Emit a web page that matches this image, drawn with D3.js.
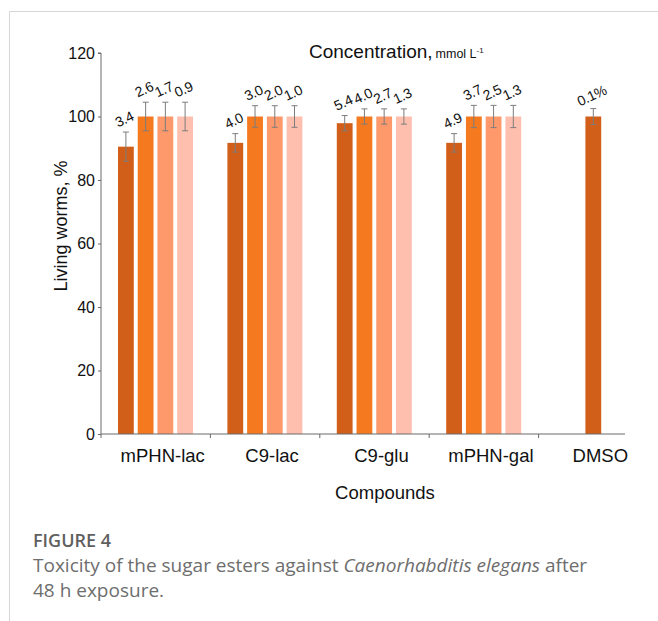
<!DOCTYPE html>
<html>
<head>
<meta charset="utf-8">
<script src="https://cdn.jsdelivr.net/npm/d3@7"></script>
<style>
  body { margin: 0; background: #fff; }
  svg { display: block; }
</style>
</head>
<body>
<svg id="chart" width="658" height="621"></svg>
<script>
// data
const compounds = ['mPHN-lac', 'C9-lac', 'C9-glu', 'mPHN-gal', 'DMSO'];
const living = [
  [90.5, 100, 100, 100],
  [91.7, 100, 100, 100],
  [97.9, 100, 100, 100],
  [91.7, 100, 100, 100],
  [100],
];
const errs = [
  [4.6, 4.5, 4.5, 4.5],
  [2.9, 3.4, 3.4, 3.4],
  [2.4, 2.4, 2.4, 2.4],
  [2.9, 3.5, 3.5, 3.5],
  [2.5],
];
const concLabels = [
  ['3.4', '2.6', '1.7', '0.9'],
  ['4.0', '3.0', '2.0', '1.0'],
  ['5.4', '4.0', '2.7', '1.3'],
  ['4.9', '3.7', '2.5', '1.3'],
  ['0.1%'],
];
const yTicks = [0, 20, 40, 60, 80, 100, 120];
const barColors = ['#d25f19', '#f5791f', '#fd996b', '#ffbfae'];

const svg = d3.select('#chart');
const font = '"Liberation Sans", Arial, sans-serif';

// frame of the figure panel
svg.append('path')
  .attr('d', 'M9.5,621 V11.5 H658')
  .attr('fill', 'none')
  .attr('stroke', '#d6d6d6')
  .attr('stroke-width', 1);

const y = d3.scaleLinear().domain([0, 120]).range([434, 53]);
const x0 = d3.scaleBand().domain(compounds).range([101, 648]);
const x1 = d3.scaleBand().domain([0, 1, 2, 3]).range([17, 92]).paddingInner(0.2);

const g = svg.append('g');

// bars, error bars and concentration labels
compounds.forEach((c, ci) => {
  const vals = living[ci];
  const single = vals.length === 1;
  vals.forEach((v, i) => {
    const bx = single
      ? x0(c) + (x0.bandwidth() - x1.bandwidth()) / 2
      : x0(c) + x1(i);
    const bw = x1.bandwidth();
    const cx = bx + bw / 2;
    g.append('rect')
      .attr('x', bx)
      .attr('y', y(v))
      .attr('width', bw)
      .attr('height', y(0) - y(v))
      .attr('fill', barColors[i]);

    const e = errs[ci][i];
    const top = y(v + e);
    const bot = y(v - e);
    g.append('line')
      .attr('x1', cx).attr('x2', cx)
      .attr('y1', top).attr('y2', bot)
      .attr('stroke', '#7d7d7d').attr('stroke-width', 1);
    [top, bot].forEach((yy) => {
      g.append('line')
        .attr('x1', cx - 3).attr('x2', cx + 3)
        .attr('y1', yy).attr('y2', yy)
        .attr('stroke', '#7d7d7d').attr('stroke-width', 1);
    });

    g.append('text')
      .attr('transform', `translate(${cx - 1.5},${top - 13}) rotate(-25)`)
      .attr('text-anchor', 'middle')
      .attr('dy', '0.35em')
      .style('font-family', font)
      .style('font-size', '14px')
      .style('letter-spacing', '-0.3px')
      .attr('fill', '#111')
      .text(concLabels[ci][i]);
  });
});

// y axis
const yAxis = d3.axisLeft(y).tickValues(yTicks).tickSize(3).tickPadding(3);
const ya = svg.append('g').attr('transform', 'translate(101,0)').call(yAxis);
ya.select('.domain').attr('stroke', '#6a6a6a').attr('d', `M-3,${y(120)}H0V${y(0)}`);
ya.selectAll('.tick line').attr('stroke', '#6a6a6a');
ya.selectAll('.tick text')
  .style('font-family', font)
  .style('font-size', '16px')
  .attr('fill', '#111');

// x axis
const xa = svg.append('g').attr('transform', `translate(0,${y(0)})`);
xa.append('line')
  .attr('x1', 101).attr('x2', 625)
  .attr('stroke', '#6a6a6a');
xa.selectAll('.xtick')
  .data(compounds)
  .enter()
  .append('line')
  .attr('x1', (d) => x0(d)).attr('x2', (d) => x0(d))
  .attr('y1', 0).attr('y2', 4)
  .attr('stroke', '#6a6a6a');
xa.selectAll('.xlab')
  .data(compounds)
  .enter()
  .append('text')
  .attr('x', (d) => x0(d) + x0.bandwidth() / 2 + 7)
  .attr('y', 28)
  .attr('text-anchor', 'middle')
  .style('font-family', font)
  .style('font-size', '18.5px')
  .attr('fill', '#111')
  .text((d) => d);

// axis titles
svg.append('text')
  .attr('x', 385).attr('y', 499)
  .attr('text-anchor', 'middle')
  .style('font-family', font)
  .style('font-size', '18.5px')
  .attr('fill', '#111')
  .text('Compounds');

svg.append('text')
  .attr('transform', 'translate(67,226) rotate(-90)')
  .attr('text-anchor', 'middle')
  .style('font-family', font)
  .style('font-size', '18px')
  .attr('fill', '#111')
  .text('Living worms, %');

const title = svg.append('text')
  .attr('x', 309).attr('y', 58)
  .style('font-family', font)
  .attr('fill', '#111');
title.append('tspan').style('font-size', '19px').text('Concentration,');
title.append('tspan').attr('dx', 3).style('font-size', '12.5px').text('mmol L');
title.append('tspan').attr('dy', -5).style('font-size', '8px').text('-1');

// caption
const capFont = '"Open Sans", "Noto Sans", sans-serif';
svg.append('text')
  .attr('x', 33).attr('y', 547)
  .style('font-family', capFont)
  .style('font-size', '18px')
  .style('font-weight', 600)
  .attr('fill', '#5f5f5f')
  .text('FIGURE 4');

const cap1 = svg.append('text')
  .attr('x', 33).attr('y', 572)
  .style('font-family', capFont)
  .style('font-size', '19px')
  .attr('fill', '#6e6e6e');
cap1.append('tspan').text('Toxicity of the sugar esters against ');
cap1.append('tspan').style('font-style', 'italic').text('Caenorhabditis elegans');
cap1.append('tspan').text(' after');

svg.append('text')
  .attr('x', 33).attr('y', 597)
  .style('font-family', capFont)
  .style('font-size', '19px')
  .attr('fill', '#6e6e6e')
  .text('48 h exposure.');
</script>
</body>
</html>
